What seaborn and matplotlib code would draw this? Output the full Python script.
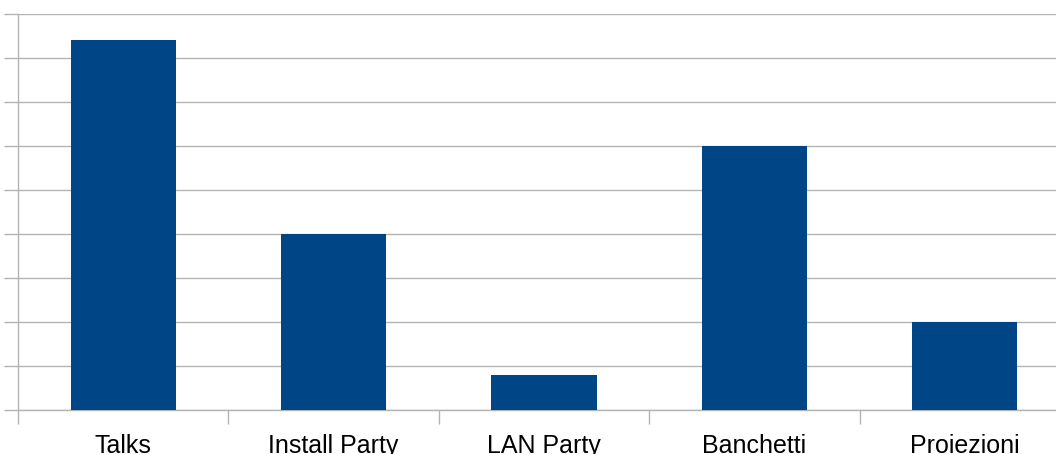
import numpy as np
import pandas as pd
import matplotlib
matplotlib.use("Agg")
import matplotlib.pyplot as plt
import seaborn as sns

categories = ["Talks", "Install Party", "LAN Party", "Banchetti", "Proiezioni"]
values = [42, 20, 4, 30, 10]

df = pd.DataFrame({"categoria": categories, "valore": values})

sns.set_style("white")
plt.rcParams["font.family"] = ["Liberation Sans", "DejaVu Sans"]

fig = plt.figure(figsize=(10.56, 4.54), dpi=100)
# plot area runs past the right edge, as in the original
ax = fig.add_axes([18 / 1056, 1 - 410 / 454, 1052 / 1056, 396 / 454])

sns.barplot(data=df, x="categoria", y="valore", color="#004586", width=0.5,
            saturation=1, linewidth=0, ax=ax, zorder=3)

ax.set_ylim(0, 45)
ax.set_xlim(-0.5, 4.5)
ax.set_yticks(np.arange(0, 46, 5))
ax.set_yticklabels([])
ax.yaxis.grid(True, color="#b3b3b3", linewidth=1, zorder=0)
ax.set_axisbelow(True)

ax.set_xticks(range(len(categories)))
ax.set_xticklabels(categories, fontsize=18, color="#000000")
ax.set_xticks(np.arange(-0.5, 5, 1), minor=True)
ax.tick_params(axis="x", which="major", length=0, pad=17.5)
ax.tick_params(axis="x", which="minor", length=10, width=1, color="#b3b3b3",
               direction="out", bottom=True)
ax.tick_params(axis="y", length=10, width=1, color="#b3b3b3", direction="out",
               left=True)

ax.set_xlabel("")
ax.set_ylabel("")
for s in ["top", "right"]:
    ax.spines[s].set_visible(False)
for s in ["left", "bottom"]:
    ax.spines[s].set_color("#b3b3b3")
    ax.spines[s].set_linewidth(1)

fig.savefig("out.png", dpi=100)
